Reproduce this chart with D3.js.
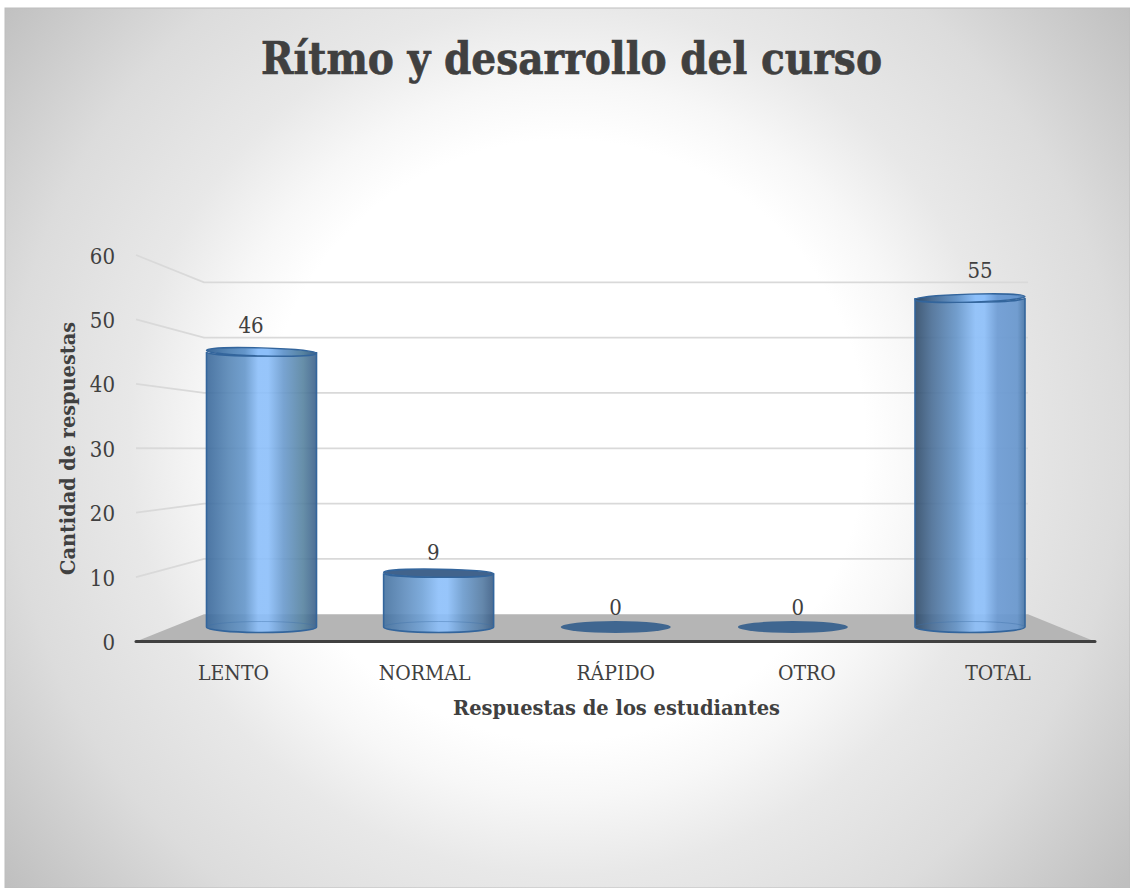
<!DOCTYPE html>
<html><head><meta charset="utf-8">
<script src="https://cdn.jsdelivr.net/npm/d3@7"></script>
<style>html,body{margin:0;padding:0;background:#fff}svg{display:block}</style></head>
<body><svg id="c" width="1130" height="888"></svg>
<script>
const categories=["LENTO","NORMAL","RÁPIDO","OTRO","TOTAL"];
const values=[46,9,0,0,55];
const shownLabels=["46","9","0","0","55"];
const yTicks=[0,10,20,30,40,50,60];
const titleText="Rítmo y desarrollo del curso";
const xTitle="Respuestas de los estudiantes";
const yTitle="Cantidad de respuestas";
const serif="'DejaVu Serif Condensed','DejaVu Serif','Liberation Serif',serif";
const W=1130,H=888;
const svg=d3.select("#c");
const defs=svg.append("defs");
const bg=defs.append("radialGradient").attr("id","bg").attr("gradientUnits","userSpaceOnUse")
 .attr("cx",565).attr("cy",440).attr("r",715);
[[0,"#ffffff"],[0.42,"#ffffff"],[0.5,"#f7f7f7"],[0.61,"#e8e8e8"],[0.78,"#dcdcdc"],[0.87,"#d0d0d0"],[1,"#bfbfbf"]].forEach(s=>bg.append("stop").attr("offset",s[0]).attr("stop-color",s[1]));
svg.append("rect").attr("x",5).attr("y",8).attr("width",W-5).attr("height",H-8).attr("fill","url(#bg)").attr("stroke","#bdbdbd").attr("stroke-width",1);

const yFront=d3.scaleLinear().domain([0,60]).range([641.5,255]);
const yBack=d3.scaleLinear().domain([0,60]).range([614.3,282.3]);
const yMid=d3.scaleLinear().domain([0,60]).range([627,268.2]);
const yVal=d3.scaleLinear().domain([0,60]).range([615,247.4]);
const xL0=136,xL1=204,xR0=1028,xR1=1095;
const xMid=d3.scalePoint().domain(categories).range([261.5,970]);
const xLab=d3.scalePoint().domain(categories).range([233.5,998]);
const xVal=d3.scalePoint().domain(categories).range([251,980]);

// floor
svg.append("path").attr("d",d3.line()([[xL0,641.5],[xL1,yBack(0)],[xR0,yBack(0)],[xR1,641.5]])+"Z").attr("fill","#b5b5b5");
// gridlines
const grid=svg.append("g").attr("fill","none").attr("stroke","#d9d9d9").attr("stroke-width",1.8);
yTicks.filter(t=>t>0).forEach(t=>{
 grid.append("path").attr("d",d3.line()([[xL0,yFront(t)],[xL1,yBack(t)],[xR0,yBack(t)]]));
});
svg.append("line").attr("x1",xL0).attr("x2",xR1).attr("y1",641.5).attr("y2",641.5).attr("stroke","#404040").attr("stroke-width",3).attr("stroke-linecap","round");

// cylinders
const gradStops=[
 [["#3a689a",0],["#5686b6",.2],["#6496ca",.35],["#8cbffa",.47],["#8cbffa",.56],["#6a9acd",.7],["#56829f",.88],["#3a5f8a",1]],
 [["#44719f",0],["#5f8dbe",.2],["#70a2d7",.35],["#8cbffa",.5],["#8cbffa",.58],["#6a9acd",.72],["#537aa2",.9],["#3a5c84",1]],
 [["#46709a",0],["#6694c4",.2],["#8fc1fb",.5],["#6694c4",.8],["#46709a",1]],
 [["#46709a",0],["#6694c4",.2],["#8fc1fb",.5],["#6694c4",.8],["#46709a",1]],
 [["#2e4a68",0],["#496d95",.15],["#6595c9",.38],["#8cbffa",.55],["#8cbffa",.63],["#6a9ad4",.75],["#6595cd",.93],["#4473a5",1]]
];
categories.forEach((c,i)=>{
 const g=defs.append("linearGradient").attr("id","cyl"+i).attr("x1",0).attr("x2",1).attr("y1",0).attr("y2",0);
 gradStops[i].forEach(s=>g.append("stop").attr("offset",s[1]).attr("stop-color",s[0]));
});
const rx=55,ryBase=5.5;
const bars=svg.append("g");
categories.forEach((c,i)=>{
 const v=values[i],cx=xMid(c),y0=yMid(0),y1=yMid(v),ryTop=4;
 const tilt=(cx-616)/355*1.6;
 if(v===0){
  bars.append("ellipse").attr("cx",cx).attr("cy",y0).attr("rx",rx).attr("ry",6).attr("fill","#3f6690");
  return;
 }
 bars.append("path").attr("d",`M${cx-rx},${y1}L${cx-rx},${y0}A${rx},${ryBase} 0 0 0 ${cx+rx},${y0}L${cx+rx},${y1}A${rx},${ryTop} 0 0 1 ${cx-rx},${y1}Z`)
  .attr("fill",`url(#cyl${i})`).attr("fill-opacity",.9).attr("stroke","#33659c").attr("stroke-width",1.6);
 bars.append("path").attr("d",`M${cx-rx},${y0}A${rx},${ryBase} 0 0 1 ${cx+rx},${y0}`).attr("fill","none").attr("stroke","#3f70a8").attr("stroke-opacity",.4).attr("stroke-width",1);
 bars.append("ellipse").attr("cx",cx).attr("cy",y1).attr("rx",rx).attr("ry",ryTop)
  .attr("transform",`rotate(${-tilt} ${cx} ${y1})`)
  .attr("fill",v<20?"#41638c":`url(#cyl${i})`).attr("stroke","#33659c").attr("stroke-width",1.4);
});

const txt="#404040";
// value labels
svg.append("g").selectAll("text").data(categories).join("text")
 .attr("x",c=>xVal(c)).attr("y",(c,i)=>yVal(values[i]))
 .attr("text-anchor","middle").attr("font-family",serif).attr("font-size",22).attr("fill",txt)
 .text((c,i)=>shownLabels[i]);
// y tick labels
svg.append("g").selectAll("text").data(yTicks).join("text")
 .attr("x",115).attr("y",t=>yFront(t)+8.5).attr("text-anchor","end")
 .attr("font-family",serif).attr("font-size",22).attr("fill",txt).text(t=>t);
// category labels
svg.append("g").selectAll("text").data(categories).join("text")
 .attr("x",c=>xLab(c)).attr("y",680).attr("text-anchor","middle")
 .attr("font-family",serif).attr("font-size",21).attr("fill",txt).text(c=>c);
// titles
svg.append("text").attr("x",571.5).attr("y",74).attr("text-anchor","middle").attr("font-family",serif)
 .attr("font-weight","bold").attr("font-size",45).attr("fill",txt).attr("stroke",txt).attr("stroke-width",.6)
 .attr("textLength",621).attr("lengthAdjust","spacingAndGlyphs").text(titleText);
svg.append("text").attr("x",616.5).attr("y",715).attr("text-anchor","middle").attr("font-family",serif)
 .attr("font-weight","bold").attr("font-size",21).attr("fill",txt)
 .attr("textLength",327).attr("lengthAdjust","spacingAndGlyphs").text(xTitle);
svg.append("text").attr("transform","translate(75,448.5) rotate(-90)").attr("text-anchor","middle").attr("font-family",serif)
 .attr("font-weight","bold").attr("font-size",21).attr("fill",txt)
 .attr("textLength",253).attr("lengthAdjust","spacingAndGlyphs").text(yTitle);
</script></body></html>
